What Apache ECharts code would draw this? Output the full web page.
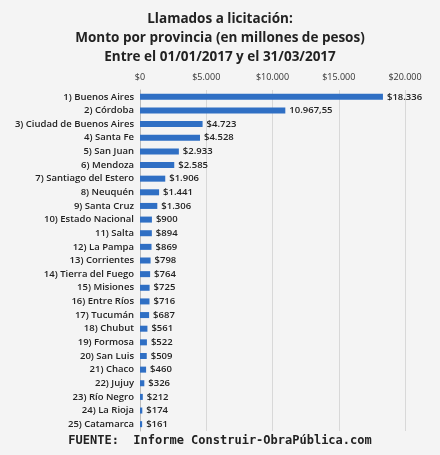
<!DOCTYPE html><html><head><meta charset="utf-8"><script src="https://cdn.jsdelivr.net/npm/echarts@6/dist/echarts.min.js"></script>
<style>body{margin:0;background:#f4f4f4}#c{width:440px;height:455px}</style></head><body><div id="c"></div><script>
const categories=["1) Buenos Aires","2) Córdoba","3) Ciudad de Buenos Aires","4) Santa Fe","5) San Juan","6) Mendoza","7) Santiago del Estero","8) Neuquén","9) Santa Cruz","10) Estado Nacional","11) Salta","12) La Pampa","13) Corrientes","14) Tierra del Fuego","15) Misiones","16) Entre Ríos","17) Tucumán","18) Chubut","19) Formosa","20) San Luis","21) Chaco","22) Jujuy","23) Río Negro","24) La Rioja","25) Catamarca"];
const values=[18336,10967.55,4723,4528,2933,2585,1906,1441,1306,900,894,869,798,764,725,716,687,561,522,509,460,326,212,174,161];
const valueLabels=["$18.336","10.967,55","$4.723","$4.528","$2.933","$2.585","$1.906","$1.441","$1.306","$900","$894","$869","$798","$764","$725","$716","$687","$561","$522","$509","$460","$326","$212","$174","$161"];
const tickLabels={0:"$0",5000:"$5.000",10000:"$10.000",15000:"$15.000",20000:"$20.000"};
const F='"Open Sans",sans-serif';
const ch=echarts.init(document.getElementById('c'));
ch.setOption({animation:false,backgroundColor:'#f4f4f4',
title:{text:"Llamados a licitación:\nMonto por provincia (en millones de pesos)\nEntre el 01/01/2017 y el 31/03/2017",left:'center',top:5,textStyle:{fontFamily:F,fontSize:13.5,fontWeight:'bold',color:'#222',lineHeight:19}},
graphic:[{type:'text',left:'center',top:435,style:{text:"FUENTE:  Informe Construir-ObraPública.com",font:'bold 12px "DejaVu Sans Mono",monospace',fill:'#222'}}],
grid:{left:140,right:35,top:90,bottom:24},
xAxis:{type:'value',position:'top',min:0,max:20000,interval:5000,axisLabel:{formatter:v=>tickLabels[v],fontFamily:F,fontSize:9,color:'#333'},splitLine:{lineStyle:{color:'#d8d8d8'}},axisLine:{show:false},axisTick:{show:false}},
yAxis:{type:'category',inverse:true,data:categories,axisLabel:{fontFamily:F,fontSize:9.5,fontWeight:600,color:'#222',margin:6},axisTick:{show:false},axisLine:{lineStyle:{color:'#bbb'}}},
series:[{type:'bar',data:values,barWidth:6,itemStyle:{color:'#2f6fc4'},label:{show:true,position:'right',distance:4,fontFamily:F,fontSize:9.5,fontWeight:600,color:'#222',formatter:p=>valueLabels[p.dataIndex]}}]});
</script></body></html>
